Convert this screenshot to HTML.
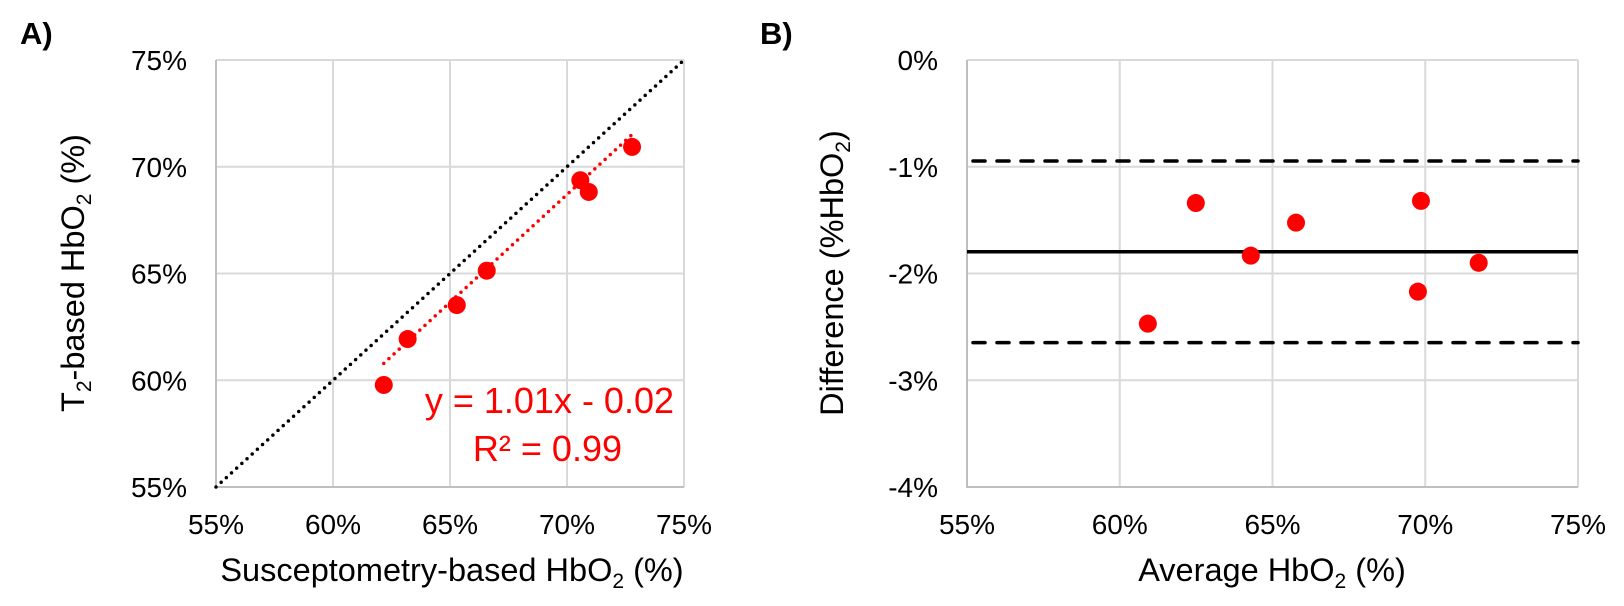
<!DOCTYPE html>
<html><head><meta charset="utf-8"><style>
html,body{margin:0;padding:0;background:#fff;}
svg{display:block;font-family:"Liberation Sans",Arial,sans-serif;}
</style></head><body>
<svg id="fig" width="1624" height="606" viewBox="0 0 1624 606"></svg>
<script>
// Panel A data
const aTicks = [55, 60, 65, 70, 75];
const aTickLabels = ["55%", "60%", "65%", "70%", "75%"];
const aX = [62.17, 63.19, 65.29, 66.57, 70.57, 70.93, 72.78];
const aY = [59.78, 61.93, 63.52, 65.13, 69.37, 68.82, 70.93];
const aSlope = [1.01];
const aIntercept = [-0.02];
// Panel B data
const bXTicks = [55, 60, 65, 70, 75];
const bXTickLabels = ["55%", "60%", "65%", "70%", "75%"];
const bYTicks = [0, -1, -2, -3, -4];
const bYTickLabels = ["0%", "-1%", "-2%", "-3%", "-4%"];
const bX = [60.92, 62.49, 64.29, 65.77, 69.86, 69.76, 71.75];
const bY = [-2.47, -1.34, -1.833, -1.524, -1.32, -2.17, -1.90];
const bMean = [-1.796];
const bLimits = [-0.946, -2.648];

const NS = "http://www.w3.org/2000/svg";
const svg = document.getElementById("fig");
function mk(tag, attrs, parent, text) {
  const e = document.createElementNS(NS, tag);
  for (const k in attrs) e.setAttribute(k, attrs[k]);
  if (text !== undefined) e.textContent = text;
  (parent || svg).appendChild(e);
  return e;
}
const A = {x0: 216, x1: 684, y0: 487, y1: 60, min: 55, max: 75};
const ax = v => A.x0 + (v - A.min) / (A.max - A.min) * (A.x1 - A.x0);
const ay = v => A.y0 - (v - A.min) / (A.max - A.min) * (A.y0 - A.y1);
const B = {x0: 967, x1: 1578, y0: 487, y1: 60};
const bx = v => B.x0 + (v - 55) / 20 * (B.x1 - B.x0);
const by = v => B.y1 + (0 - v) / 4 * (B.y0 - B.y1);

// ---- Panel A ----
const gA = mk("g", {});


aTicks.forEach((t, i) => {
  if (i > 0) { const l = mk("line", {x1: ax(t), x2: ax(t), y1: A.y1, y2: A.y0, stroke: "#d9d9d9", "stroke-width": 2}, gA);
      }
  if (i > 0) { const l = mk("line", {x1: A.x0, x2: A.x1, y1: ay(t), y2: ay(t), stroke: "#d9d9d9", "stroke-width": 2}, gA);
      }
  const tx = mk("text", {x: ax(t), y: 534, "font-size": 28, "text-anchor": "middle", fill: "#000"}, gA, aTickLabels[i]);
   
  const ty = mk("text", {x: 187, y: ay(t) + 10, "font-size": 28, "text-anchor": "end", fill: "#000"}, gA, aTickLabels[i]);
   
});
const axA = mk("polyline", {points: `${A.x0},${A.y1} ${A.x0},${A.y0} ${A.x1},${A.y0}`, fill: "none", stroke: "#bfbfbf", "stroke-width": 2}, gA);
 
const idl = mk("line", {x1: ax(55), y1: ay(55), x2: ax(75), y2: ay(75), stroke: "#000", "stroke-width": 3.5, "stroke-dasharray": "0 7", "stroke-linecap": "round"}, gA);
 
const xmin = Math.min(...aX), xmax = Math.max(...aX);
const fy = x => (aSlope[0] * x / 100 + aIntercept[0]) * 100;
const tl = mk("line", {x1: ax(xmin), y1: ay(fy(xmin)), x2: ax(xmax), y2: ay(fy(xmax)), stroke: "#ff0000", "stroke-width": 3.5, "stroke-dasharray": "0 7", "stroke-linecap": "round"}, gA);
 
aX.forEach((x, i) => {
  const c = mk("circle", {cx: ax(x), cy: ay(aY[i]), r: 9, fill: "#ff0000"}, gA);
   
});
const eq = mk("text", {x: 674, y: 413, "font-size": 36, "text-anchor": "end", fill: "#ff0000"}, gA, "y = 1.01x - 0.02");
 
const r2 = mk("text", {x: 622, y: 461, "font-size": 36, "text-anchor": "end", fill: "#ff0000"}, gA, "R² = 0.99");
 
const xtA = mk("text", {x: 452, y: 581, "font-size": 32.5, "text-anchor": "middle"}, gA);
 
xtA.innerHTML = 'Susceptometry-based HbO<tspan font-size="21" dy="7">2</tspan><tspan dy="-7"> (%)</tspan>';
const ytA = mk("text", {x: 0, y: 0, "font-size": 32.5, "text-anchor": "middle", transform: "translate(84,273) rotate(-90)"}, gA);
 
ytA.innerHTML = 'T<tspan font-size="21" dy="7">2</tspan><tspan dy="-7">-based HbO</tspan><tspan font-size="21" dy="7">2</tspan><tspan dy="-7"> (%)</tspan>';
const la = mk("text", {x: 20, y: 44, "font-size": 31, "font-weight": "bold"}, gA, "A)");
 

// ---- Panel B ----
const gB = mk("g", {});


bXTicks.forEach((t, i) => {
  if (i > 0) { const l = mk("line", {x1: bx(t), x2: bx(t), y1: B.y1, y2: B.y0, stroke: "#d9d9d9", "stroke-width": 2}, gB);
      }
  const tx = mk("text", {x: bx(t), y: 534, "font-size": 28, "text-anchor": "middle"}, gB, bXTickLabels[i]);
   
});
bYTicks.forEach((t, i) => {
  if (i < bYTicks.length - 1) { const l = mk("line", {x1: B.x0, x2: B.x1, y1: by(t), y2: by(t), stroke: "#d9d9d9", "stroke-width": 2}, gB);
      }
  const ty = mk("text", {x: 938, y: by(t) + 10, "font-size": 28, "text-anchor": "end"}, gB, bYTickLabels[i]);
   
});
const axB = mk("polyline", {points: `${B.x0},${B.y1} ${B.x0},${B.y0} ${B.x1},${B.y0}`, fill: "none", stroke: "#bfbfbf", "stroke-width": 2}, gB);
 
bLimits.forEach(v => {
  const l = mk("line", {x1: B.x0 + 6, x2: B.x1, y1: by(v), y2: by(v), stroke: "#000", "stroke-width": 3.5, "stroke-dasharray": "12 12", "stroke-linecap": "round"}, gB);
   
});
const ml = mk("line", {x1: B.x0, x2: B.x1, y1: by(bMean[0]), y2: by(bMean[0]), stroke: "#000", "stroke-width": 3.5}, gB);
 
bX.forEach((x, i) => {
  const c = mk("circle", {cx: bx(x), cy: by(bY[i]), r: 9, fill: "#ff0000"}, gB);
   
});
const xtB = mk("text", {x: 1272, y: 581, "font-size": 32.5, "text-anchor": "middle"}, gB);
 
xtB.innerHTML = 'Average HbO<tspan font-size="21" dy="7">2</tspan><tspan dy="-7"> (%)</tspan>';
const ytB = mk("text", {x: 0, y: 0, "font-size": 32.5, "text-anchor": "middle", transform: "translate(843,273) rotate(-90)"}, gB);
 
ytB.innerHTML = 'Difference (%HbO<tspan font-size="21" dy="7">2</tspan><tspan dy="-7">)</tspan>';
const lb = mk("text", {x: 760, y: 44, "font-size": 31, "font-weight": "bold"}, gB, "B)");
 
</script>
</body></html>
